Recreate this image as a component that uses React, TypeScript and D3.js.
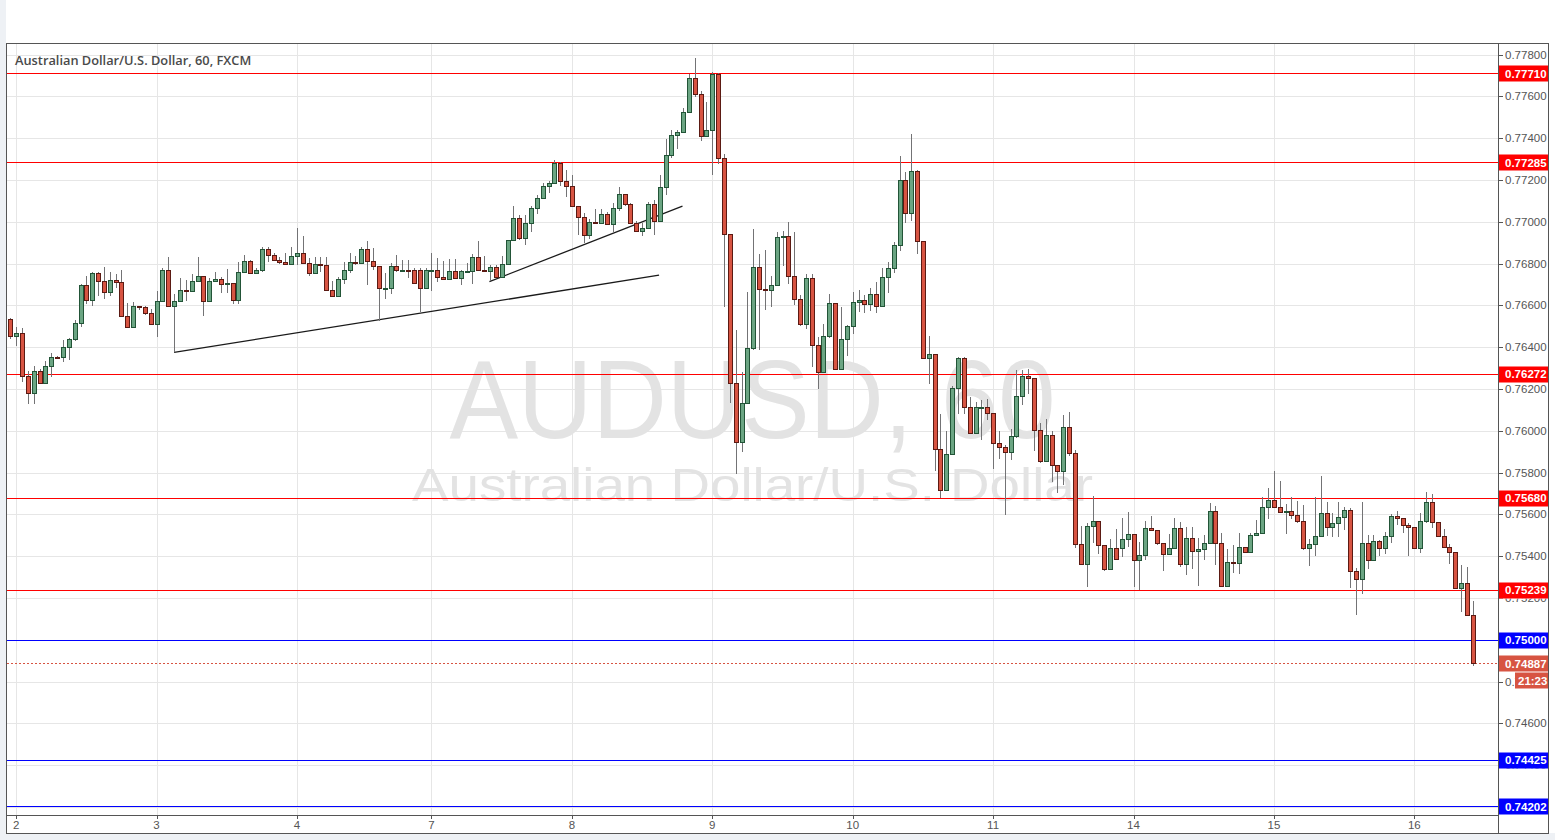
import React from "react";
import * as d3 from "d3";

// ---- data (hourly AUD/USD candles, FXCM) ----
const openP = [0.76533,0.76452,0.76466,0.76260,0.76179,0.76284,0.76227,0.76308,0.76351,0.76351,0.76399,0.76437,0.76514,0.76696,0.76624,0.76753,0.76715,0.76662,0.76720,0.76710,0.76547,0.76495,0.76595,0.76590,0.76562,0.76509,0.76619,0.76767,0.76595,0.76619,0.76672,0.76667,0.76715,0.76739,0.76619,0.76715,0.76724,0.76700,0.76705,0.76624,0.76758,0.76811,0.76753,0.76769,0.76868,0.76839,0.76818,0.76806,0.76796,0.76834,0.76849,0.76801,0.76753,0.76796,0.76791,0.76672,0.76643,0.76724,0.76767,0.76806,0.76801,0.76868,0.76811,0.76787,0.76681,0.76684,0.76787,0.76767,0.76769,0.76767,0.76767,0.76681,0.76767,0.76767,0.76734,0.76724,0.76763,0.76729,0.76763,0.76763,0.76830,0.76767,0.76763,0.76782,0.76734,0.76796,0.76911,0.77016,0.76921,0.76992,0.77064,0.77112,0.77169,0.77184,0.77279,0.77193,0.77169,0.77074,0.77021,0.76935,0.76997,0.76992,0.77035,0.76988,0.77064,0.77131,0.77083,0.76992,0.76954,0.76968,0.77083,0.77002,0.77165,0.77318,0.77413,0.77428,0.77523,0.77686,0.77610,0.77409,0.77437,0.77705,0.77303,0.76940,0.76227,0.75944,0.76131,0.76394,0.76782,0.76677,0.76672,0.76696,0.76925,0.76930,0.76739,0.76629,0.76509,0.76729,0.76409,0.76279,0.76452,0.76610,0.76294,0.76437,0.76500,0.76614,0.76624,0.76605,0.76653,0.76595,0.76734,0.76777,0.76887,0.77198,0.77040,0.77241,0.76906,0.76346,0.76365,0.75911,0.75715,0.75887,0.76203,0.76346,0.76112,0.75988,0.76112,0.76115,0.76083,0.75940,0.75921,0.75897,0.75973,0.76165,0.76260,0.76251,0.76002,0.75854,0.75978,0.75834,0.75806,0.76016,0.75892,0.75456,0.75361,0.75543,0.75566,0.75452,0.75337,0.75437,0.75437,0.75480,0.75504,0.75380,0.75404,0.75533,0.75523,0.75461,0.75409,0.75437,0.75533,0.75361,0.75485,0.75423,0.75432,0.75461,0.75614,0.75461,0.75255,0.75370,0.75365,0.75442,0.75418,0.75499,0.75509,0.75633,0.75667,0.75633,0.75609,0.75614,0.75595,0.75566,0.75437,0.75456,0.75495,0.75605,0.75538,0.75557,0.75586,0.75619,0.75327,0.75289,0.75461,0.75380,0.75471,0.75437,0.75495,0.75590,0.75581,0.75547,0.75538,0.75437,0.75566,0.75657,0.75562,0.75495,0.75442,0.75418,0.75246,0.75270,0.75117];
const highP = [0.76539,0.76495,0.76490,0.76287,0.76308,0.76295,0.76332,0.76370,0.76356,0.76434,0.76442,0.76528,0.76703,0.76739,0.76759,0.76759,0.76782,0.76758,0.76748,0.76767,0.76610,0.76614,0.76597,0.76595,0.76581,0.76667,0.76779,0.76831,0.76654,0.76729,0.76720,0.76748,0.76831,0.76742,0.76729,0.76758,0.76734,0.76772,0.76708,0.76806,0.76839,0.76815,0.76777,0.76877,0.76877,0.76849,0.76830,0.76849,0.76877,0.76968,0.76930,0.76825,0.76830,0.76830,0.76830,0.76715,0.76734,0.76806,0.76849,0.76834,0.76877,0.76906,0.76873,0.76790,0.76753,0.76801,0.76839,0.76815,0.76815,0.76778,0.76778,0.76778,0.76849,0.76825,0.76811,0.76820,0.76820,0.76770,0.76801,0.76844,0.76906,0.76834,0.76791,0.76791,0.76834,0.76913,0.77074,0.77031,0.77031,0.77074,0.77126,0.77184,0.77193,0.77294,0.77285,0.77246,0.77222,0.77074,0.77040,0.77011,0.77059,0.77059,0.77045,0.77088,0.77165,0.77131,0.77088,0.77002,0.76992,0.77093,0.77102,0.77222,0.77394,0.77437,0.77437,0.77543,0.77705,0.77782,0.77624,0.77571,0.77715,0.77711,0.77323,0.76940,0.76480,0.76279,0.76662,0.76965,0.76844,0.76863,0.76740,0.76949,0.76954,0.76997,0.76949,0.76648,0.76748,0.76748,0.76447,0.76509,0.76653,0.76610,0.76590,0.76505,0.76662,0.76672,0.76648,0.76681,0.76710,0.76777,0.76806,0.76901,0.77313,0.77236,0.77418,0.77247,0.76910,0.76452,0.76365,0.76078,0.75998,0.76212,0.76351,0.76351,0.76160,0.76139,0.76145,0.76150,0.76083,0.75997,0.75930,0.76007,0.76289,0.76289,0.76294,0.76251,0.76035,0.76054,0.75997,0.75834,0.76074,0.76089,0.75908,0.75543,0.75557,0.75686,0.75566,0.75452,0.75480,0.75528,0.75581,0.75609,0.75504,0.75466,0.75566,0.75590,0.75523,0.75461,0.75504,0.75581,0.75562,0.75538,0.75538,0.75485,0.75499,0.75652,0.75638,0.75509,0.75432,0.75452,0.75509,0.75445,0.75509,0.75571,0.75681,0.75724,0.75806,0.75758,0.75648,0.75681,0.75662,0.75643,0.75480,0.75681,0.75782,0.75657,0.75605,0.75657,0.75633,0.75629,0.75342,0.75657,0.75499,0.75499,0.75475,0.75514,0.75600,0.75614,0.75584,0.75557,0.75540,0.75605,0.75705,0.75696,0.75565,0.75528,0.75456,0.75420,0.75356,0.75346,0.75184];
const lowP = [0.76437,0.76407,0.76231,0.76129,0.76126,0.76227,0.76227,0.76255,0.76345,0.76330,0.76340,0.76428,0.76498,0.76605,0.76595,0.76643,0.76629,0.76643,0.76681,0.76543,0.76495,0.76495,0.76576,0.76552,0.76509,0.76447,0.76615,0.76595,0.76375,0.76614,0.76619,0.76662,0.76712,0.76547,0.76614,0.76710,0.76657,0.76657,0.76605,0.76605,0.76753,0.76750,0.76750,0.76761,0.76806,0.76811,0.76796,0.76791,0.76794,0.76791,0.76796,0.76739,0.76748,0.76758,0.76670,0.76638,0.76638,0.76700,0.76753,0.76791,0.76796,0.76696,0.76767,0.76523,0.76629,0.76653,0.76758,0.76758,0.76729,0.76705,0.76566,0.76681,0.76667,0.76710,0.76720,0.76720,0.76729,0.76696,0.76753,0.76700,0.76767,0.76758,0.76715,0.76729,0.76729,0.76796,0.76911,0.76911,0.76887,0.76949,0.77035,0.77110,0.77136,0.77184,0.77169,0.77117,0.77074,0.76935,0.76897,0.76916,0.76992,0.76992,0.76983,0.76949,0.77050,0.77074,0.76988,0.76949,0.76930,0.76964,0.76935,0.77002,0.77126,0.77303,0.77346,0.77428,0.77523,0.77595,0.77385,0.77409,0.77222,0.77275,0.76590,0.76131,0.75791,0.75897,0.76131,0.76385,0.76385,0.76576,0.76593,0.76694,0.76787,0.76700,0.76600,0.76500,0.76485,0.76303,0.76198,0.76279,0.76442,0.76294,0.76294,0.76356,0.76461,0.76569,0.76562,0.76571,0.76562,0.76590,0.76657,0.76753,0.76858,0.76992,0.77002,0.76844,0.76346,0.76222,0.75806,0.75676,0.75715,0.75887,0.76078,0.76078,0.75988,0.75988,0.75954,0.76050,0.75815,0.75863,0.75598,0.75858,0.75964,0.76121,0.76174,0.75901,0.75844,0.75854,0.75753,0.75700,0.75739,0.75880,0.75437,0.75361,0.75251,0.75461,0.75409,0.75327,0.75337,0.75385,0.75394,0.75442,0.75251,0.75236,0.75380,0.75523,0.75452,0.75327,0.75409,0.75437,0.75346,0.75308,0.75337,0.75255,0.75380,0.75461,0.75356,0.75251,0.75255,0.75318,0.75313,0.75413,0.75415,0.75499,0.75509,0.75576,0.75633,0.75605,0.75504,0.75576,0.75557,0.75428,0.75351,0.75399,0.75495,0.75495,0.75490,0.75490,0.75523,0.75246,0.75117,0.75217,0.75337,0.75375,0.75399,0.75409,0.75461,0.75547,0.75509,0.75399,0.75435,0.75413,0.75557,0.75533,0.75495,0.75442,0.75361,0.75246,0.75131,0.75117,0.74873];
const closeP = [0.76452,0.76466,0.76260,0.76179,0.76284,0.76227,0.76308,0.76351,0.76349,0.76399,0.76437,0.76514,0.76696,0.76624,0.76753,0.76715,0.76662,0.76720,0.76710,0.76547,0.76495,0.76595,0.76590,0.76562,0.76509,0.76619,0.76767,0.76595,0.76619,0.76672,0.76667,0.76715,0.76739,0.76619,0.76715,0.76724,0.76700,0.76705,0.76624,0.76758,0.76811,0.76753,0.76769,0.76868,0.76839,0.76818,0.76806,0.76796,0.76834,0.76849,0.76801,0.76753,0.76796,0.76791,0.76672,0.76643,0.76724,0.76767,0.76806,0.76801,0.76868,0.76811,0.76787,0.76681,0.76684,0.76787,0.76767,0.76769,0.76768,0.76705,0.76681,0.76767,0.76768,0.76734,0.76724,0.76763,0.76729,0.76763,0.76764,0.76830,0.76767,0.76763,0.76782,0.76734,0.76796,0.76911,0.77016,0.76921,0.76992,0.77064,0.77112,0.77169,0.77184,0.77279,0.77193,0.77169,0.77074,0.77021,0.76935,0.76997,0.76992,0.77035,0.76988,0.77064,0.77131,0.77083,0.76992,0.76954,0.76968,0.77083,0.77002,0.77165,0.77318,0.77413,0.77428,0.77523,0.77686,0.77610,0.77409,0.77437,0.77705,0.77303,0.76940,0.76227,0.75944,0.76131,0.76394,0.76782,0.76677,0.76672,0.76696,0.76925,0.76930,0.76739,0.76629,0.76509,0.76729,0.76409,0.76279,0.76452,0.76610,0.76294,0.76437,0.76500,0.76614,0.76624,0.76605,0.76653,0.76595,0.76734,0.76777,0.76887,0.77198,0.77040,0.77241,0.76906,0.76346,0.76365,0.75911,0.75715,0.75887,0.76203,0.76346,0.76112,0.75988,0.76112,0.76115,0.76083,0.75940,0.75921,0.75897,0.75973,0.76165,0.76260,0.76251,0.76002,0.75854,0.75978,0.75834,0.75806,0.76016,0.75892,0.75456,0.75361,0.75543,0.75566,0.75452,0.75337,0.75437,0.75385,0.75480,0.75504,0.75380,0.75404,0.75533,0.75523,0.75461,0.75409,0.75437,0.75533,0.75361,0.75485,0.75423,0.75432,0.75461,0.75614,0.75461,0.75255,0.75370,0.75365,0.75442,0.75418,0.75499,0.75509,0.75633,0.75667,0.75633,0.75609,0.75614,0.75595,0.75566,0.75437,0.75456,0.75495,0.75605,0.75538,0.75557,0.75586,0.75619,0.75327,0.75289,0.75461,0.75380,0.75471,0.75437,0.75495,0.75590,0.75581,0.75547,0.75538,0.75437,0.75566,0.75657,0.75562,0.75495,0.75442,0.75418,0.75246,0.75270,0.75117,0.74887];

// day boundaries (bar index where each trading day starts) and their labels
const dayStartBars = [1, 25, 49, 72, 96, 120, 144, 168, 192, 216, 240];
const dayLabels = ["2", "3", "4", "7", "8", "9", "10", "11", "14", "15", "16"];

// price scale ticks
const priceTicks = [0.778, 0.776, 0.774, 0.772, 0.77, 0.768, 0.766, 0.764, 0.762, 0.76, 0.758, 0.756, 0.754, 0.752, 0.75, 0.748, 0.746, 0.744, 0.742];

// horizontal support / resistance levels
const levelPrices = [0.7771, 0.77285, 0.76272, 0.7568, 0.75239, 0.75, 0.74425, 0.74202];
const levelKinds = ["res", "res", "res", "res", "res", "sup", "sup", "sup"];

// hand-drawn trend lines: [barIndex, price] pairs
const trendStartBar = [28, 81.9];
const trendStartPrice = [0.76375, 0.76713];
const trendEndBar = [110.9, 114.9];
const trendEndPrice = [0.76744, 0.77075];

const symbolTitle = "Australian Dollar/U.S. Dollar, 60, FXCM";
const watermarkMain = "AUDUSD, 60";
const watermarkSub = "Australian Dollar/U.S. Dollar";
const countdown = "21:23";

// ---- layout ----
const W = 1555, H = 840;
const plotL = 7, plotR = 1498, plotT = 43, plotB = 815;
const frameR = 1548, frameB = 833;

const UP = "#6ba583", UPB = "#225437", DN = "#d75442", DNB = "#5b1a13", WICK = "#737375";
const RES = "#ff0000", SUP = "#0000ff", LAST = "#d75442";

export default function App() {
  const x = d3.scaleLinear().domain([0, 250]).range([10.3, 1472.8]);
  const y = d3.scaleLinear().domain([0.778, 0.742]).range([54.5, 806.9]);
  const fmt = d3.format(".5f");
  const lastClose = closeP[closeP.length - 1];
  const px = (v: number) => Math.round(v) + 0.5;

  const candles = openP.map((o, i) => {
    const c = closeP[i];
    const up = c >= o;
    const cx = Math.round(x(i));
    const top = Math.round(y(Math.max(o, c)));
    const h = Math.max(1, Math.round(y(Math.min(o, c))) - top);
    return (
      <g key={i}>
        <line x1={cx + 0.5} x2={cx + 0.5} y1={Math.round(y(highP[i]))} y2={Math.round(y(lowP[i]))} stroke={WICK} strokeWidth={1} />
        <rect x={cx - 1.5} y={top + 0.5} width={4} height={h} fill={up ? UP : DN} stroke={up ? UPB : DNB} strokeWidth={1} />
      </g>
    );
  });

  const labelFont = "'Liberation Sans', Arial, sans-serif";

  // label boxes on the price axis (levels, last price, countdown)
  const boxes: { y0: number; x0: number }[] = levelPrices.map((p) => ({ y0: Math.round(y(p)) - 7.5, x0: plotR + 1 }));
  boxes.push({ y0: Math.round(y(lastClose)) - 7.5, x0: plotR + 1 });
  boxes.push({ y0: Math.round(y(lastClose)) + 9.5, x0: 1515 });
  const axisClip =
    `M${plotR + 1},${plotT} H${frameR} V${frameB} H${plotR + 1} Z ` +
    boxes.map((b) => `M${b.x0},${b.y0} H${frameR} V${b.y0 + 16} H${b.x0} Z`).join(" ");

  return (
    <div style={{ position: "absolute", left: 0, top: 0, width: W, height: H }}>
      <svg width={W} height={H} style={{ display: "block" }}>
        <rect x={0} y={0} width={W} height={H} fill="#eef1f5" />
        <rect x={6} y={0} width={W - 6} height={frameB} fill="#ffffff" />
        <defs>
          <clipPath id="plotclip">
            <rect x={plotL} y={plotT} width={plotR - plotL} height={plotB - plotT} />
          </clipPath>
          <clipPath id="axisclip">
            <path d={axisClip} clipRule="evenodd" />
          </clipPath>
        </defs>
        {/* grid */}
        <g>
          {priceTicks.map((p) => (
            <line key={p} x1={plotL} x2={plotR} y1={px(y(p))} y2={px(y(p))} stroke="#e6e6e6" strokeWidth={1} />
          ))}
          {dayStartBars.map((b) => (
            <line key={b} x1={px(x(b))} x2={px(x(b))} y1={plotT} y2={plotB} stroke="#e6e6e6" strokeWidth={1} />
          ))}
        </g>
        {/* watermark */}
        <text x={(plotL + plotR) / 2} y={438} textAnchor="middle" fontFamily={labelFont} fontSize={112} fill="#e3e3e3" textLength={606} lengthAdjust="spacingAndGlyphs">{watermarkMain}</text>
        <text x={(plotL + plotR) / 2} y={501} textAnchor="middle" fontFamily={labelFont} fontSize={46} fill="#e3e3e3" textLength={681} lengthAdjust="spacingAndGlyphs">{watermarkSub}</text>
        <g clipPath="url(#plotclip)">
          {levelPrices.map((p, i) => (
            <line key={p} x1={plotL} x2={plotR} y1={px(y(p))} y2={px(y(p))} stroke={levelKinds[i] === "res" ? RES : SUP} strokeWidth={1} />
          ))}
          <line x1={plotL} x2={plotR} y1={px(y(lastClose))} y2={px(y(lastClose))} stroke={LAST} strokeWidth={1} strokeDasharray="2,2" />
          {trendStartBar.map((b, i) => (
            <line key={i} x1={x(b)} y1={y(trendStartPrice[i])} x2={x(trendEndBar[i])} y2={y(trendEndPrice[i])} stroke="#1a1a1a" strokeWidth={1.3} />
          ))}
          {candles}
        </g>
        {/* title */}
        <text x={15} y={65} fontFamily="'Open Sans', Arial, sans-serif" fontWeight={600} fontSize={12.8} fill="#4a4a4a">{symbolTitle}</text>
        {/* frame & axes */}
        <rect x={6.5} y={43.5} width={frameR - 6} height={frameB - 43} fill="none" stroke="#555555" strokeWidth={1} />
        <line x1={px(plotR)} x2={px(plotR)} y1={43} y2={frameB} stroke="#555555" />
        <line x1={6} x2={plotR} y1={px(plotB)} y2={px(plotB)} stroke="#555555" />
        {/* price axis (tick labels partly hidden under level boxes, as in the source) */}
        <g clipPath="url(#axisclip)">
          {priceTicks.map((p) => (
            <g key={p}>
              <line x1={plotR} x2={plotR + 5} y1={px(y(p))} y2={px(y(p))} stroke="#555555" />
              <text x={1505} y={y(p) + 4} fontFamily={labelFont} fontSize={11.5} fill="#555555">{fmt(p)}</text>
            </g>
          ))}
        </g>
        {/* time axis */}
        {dayStartBars.map((b, i) => (
          <g key={b}>
            <line x1={px(x(b))} x2={px(x(b))} y1={plotB} y2={plotB + 4} stroke="#555555" />
            <text x={x(b)} y={plotB + 14} textAnchor="middle" fontFamily={labelFont} fontSize={11.5} fill="#555555">{dayLabels[i]}</text>
          </g>
        ))}
        {/* level labels */}
        {levelPrices.map((p, i) => (
          <g key={p}>
            <rect x={plotR + 1} y={Math.round(y(p)) - 7.5} width={frameR - plotR - 1} height={16} fill={levelKinds[i] === "res" ? RES : SUP} />
            <text x={1505} y={y(p) + 4.5} fontFamily={labelFont} fontSize={11.5} fontWeight={700} fill="#ffffff">{fmt(p)}</text>
          </g>
        ))}
        {/* last price label + countdown */}
        <rect x={plotR + 1} y={Math.round(y(lastClose)) - 7.5} width={frameR - plotR - 1} height={16} fill={LAST} />
        <text x={1505} y={y(lastClose) + 4.5} fontFamily={labelFont} fontSize={11.5} fontWeight={700} fill="#ffffff">{fmt(lastClose)}</text>
        <rect x={1515} y={Math.round(y(lastClose)) + 9.5} width={frameR - 1515} height={16} fill={LAST} />
        <text x={1518} y={y(lastClose) + 22} fontFamily={labelFont} fontSize={11.5} fontWeight={700} fill="#ffffff">{countdown}</text>
      </svg>
    </div>
  );
}
